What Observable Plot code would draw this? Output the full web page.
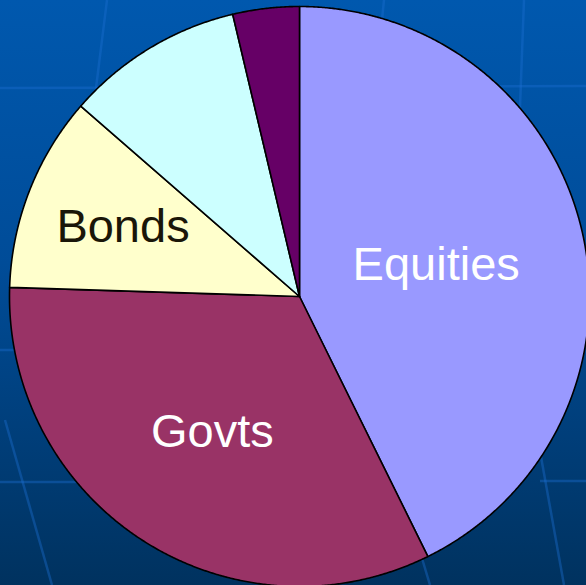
<!DOCTYPE html>
<html>
<head>
<meta charset="utf-8">
<script src="https://cdn.jsdelivr.net/npm/d3@7"></script>
<script src="https://cdn.jsdelivr.net/npm/@observablehq/plot@0.6"></script>
<style>
html, body { margin: 0; padding: 0; }
body {
  width: 586px; height: 585px; overflow: hidden; position: relative;
  background: linear-gradient(to bottom, #0058ae 0%, #004c98 45%, #00325f 100%);
}
#bg, #chart { position: absolute; left: 0; top: 0; }
#bg line { stroke: #1c6fd2; stroke-width: 2.5; opacity: 0.4; }
</style>
</head>
<body>
<svg id="bg" width="586" height="585">
  <line x1="0" y1="88" x2="586" y2="86"></line>
  <line x1="107" y1="0" x2="96" y2="88"></line>
  <line x1="384" y1="0" x2="380" y2="40"></line>
  <line x1="524" y1="0" x2="518" y2="160"></line>
  <line x1="0" y1="350" x2="40" y2="350"></line>
  <line x1="0" y1="482" x2="80" y2="482"></line>
  <line x1="5" y1="420" x2="52" y2="585"></line>
  <line x1="540" y1="481" x2="586" y2="481"></line>
  <line x1="538" y1="440" x2="564" y2="585"></line>
  <line x1="421" y1="555" x2="430" y2="585"></line>
</svg>
<div id="chart"></div>
<script>
// Slice categories (clockwise from 12 o'clock) and their shares (%)
const categories = ["Equities", "Govts", "Bonds", "Other", "Cash"];
const values = [42.7, 32.8, 10.9, 9.9, 3.7];
// Which slices carry a text label
const shownLabels = ["Equities", "Govts", "Bonds"];
// Styles
const sliceColors = ["#9999ff", "#993366", "#ffffcc", "#ccffff", "#660066"];
const darkLabels = ["Bonds"];

const arcs = d3.pie().sort(null).value(d => d)(values);

// Polygon outline for each slice (center -> arc -> center)
const outline = [];
arcs.forEach((a, i) => {
  const name = categories[i];
  outline.push({name, x: 0, y: 0});
  const n = Math.max(4, Math.ceil((a.endAngle - a.startAngle) / 0.005));
  for (let k = 0; k <= n; k++) {
    const t = a.startAngle + (a.endAngle - a.startAngle) * k / n;
    outline.push({name, x: Math.sin(t), y: Math.cos(t)});
  }
  outline.push({name, x: 0, y: 0});
});

// Label positions at sector centroids
const labels = arcs.map((a, i) => {
  const half = (a.endAngle - a.startAngle) / 2;
  const mid = a.startAngle + half;
  const r = (2 / 3) * Math.sin(half) / half;
  return {name: categories[i], x: r * Math.sin(mid), y: r * Math.cos(mid)};
}).filter(d => shownLabels.includes(d.name));

const chart = Plot.plot({
  width: 586,
  height: 585,
  margin: 0,
  x: {domain: [-1, 1], range: [9, 589], axis: null},
  y: {domain: [-1, 1], range: [586, 6], axis: null},
  color: {domain: categories, range: sliceColors},
  style: {background: "transparent", overflow: "visible"},
  marks: [
    Plot.line(outline, {
      x: "x", y: "y", z: "name", fill: "name",
      stroke: "#000", strokeWidth: 1.6, strokeLinejoin: "round", curve: "linear"
    }),
    Plot.text(labels.filter(d => !darkLabels.includes(d.name)), {
      x: "x", y: "y", text: "name", fill: "#ffffff",
      fontSize: 47, fontFamily: "Liberation Sans, Arial, sans-serif", lineAnchor: "middle"
    }),
    Plot.text(labels.filter(d => darkLabels.includes(d.name)), {
      x: "x", y: "y", text: "name", fill: "#1a1608",
      fontSize: 47, fontFamily: "Liberation Sans, Arial, sans-serif", lineAnchor: "middle"
    })
  ]
});
document.getElementById("chart").appendChild(chart);
</script>
</body>
</html>
